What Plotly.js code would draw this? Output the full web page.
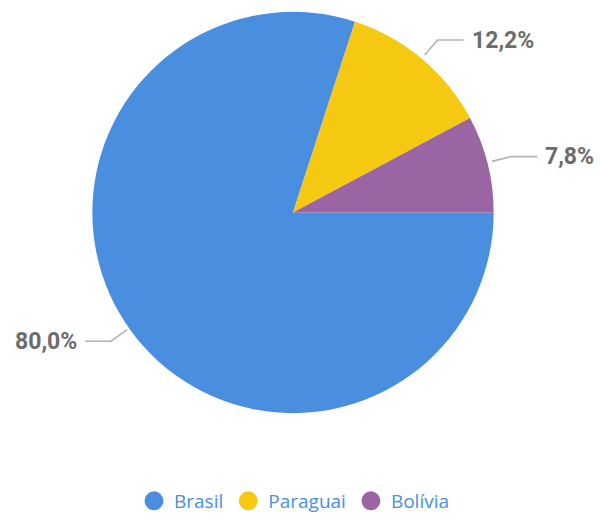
<!DOCTYPE html>
<html>
<head>
<meta charset="utf-8">
<script src="https://cdn.plot.ly/plotly-3.0.1.min.js"></script>
<style>html,body{margin:0;padding:0;background:#fff}#chart{width:600px;height:520px}</style>
</head>
<body>
<div id="chart"></div>
<script>
const categories = ["Brasil", "Paraguai", "Bolívia"];
const values = [80.0, 12.2, 7.8];
const colors = ["#4a8fdf", "#f5c911", "#9b64a3"];

const W = 600, H = 520;
const cx = 293, cy = 213, R = 201;

const total = values.reduce((a, b) => a + b, 0);
const shapes = [];
const annotations = [];
let cum = 0;
values.forEach((v, i) => {
  const midFrac = (cum + v / 2) / total;
  cum += v;
  const ang = -2 * Math.PI * midFrac; // clockwise from 3 o'clock
  const c = Math.cos(ang), s = Math.sin(ang);
  const r1 = R + 4, r2 = R + 24;
  const x1 = cx + r1 * c, y1 = cy - r1 * s;
  const x2 = cx + r2 * c, y2 = cy - r2 * s;
  const dir = c >= 0 ? 1 : -1;
  const x3 = x2 + dir * 26;
  const px = x => x / W, py = y => 1 - y / H;
  shapes.push({
    type: "path", xref: "paper", yref: "paper",
    path: `M${px(x1)},${py(y1)} L${px(x2)},${py(y2)} L${px(x3)},${py(y2)}`,
    line: {color: "#b3b3b3", width: 1.6}
  });
  annotations.push({
    xref: "paper", yref: "paper", showarrow: false,
    x: px(x3 + dir * 6), y: py(y2),
    xanchor: dir > 0 ? "left" : "right", yanchor: "middle",
    text: "<b>" + v.toFixed(1).replace(".", ",") + "%</b>",
    font: {family: "Roboto, sans-serif", size: 23, color: "#6c6c6c"}
  });
});

const Rd = R + 2, cyd = cy + 2;
const pie = {
  type: "pie",
  labels: categories,
  values: values,
  sort: false,
  direction: "clockwise",
  rotation: 90,
  marker: {colors: colors, line: {width: 0}},
  textinfo: "none",
  hoverinfo: "label+percent",
  showlegend: false,
  domain: {x: [(cx - Rd) / W, (cx + Rd) / W], y: [1 - (cyd + Rd) / H, 1 - (cyd - Rd) / H]}
};

const legendTraces = categories.map((c, i) => ({
  type: "scatter", mode: "markers", x: [null], y: [null], name: c,
  marker: {symbol: "circle", size: 16, color: colors[i], line: {color: colors[i], width: 3}},
  xaxis: "x", yaxis: "y", hoverinfo: "skip"
}));

const layout = {
  width: W, height: H,
  margin: {l: 0, r: 0, t: 0, b: 0},
  paper_bgcolor: "#ffffff", plot_bgcolor: "rgba(0,0,0,0)",
  xaxis: {visible: false, domain: [0, 1]},
  yaxis: {visible: false, domain: [0, 1]},
  showlegend: true,
  legend: {
    orientation: "h", x: 134 / W, xanchor: "left", y: 1 - 507 / H, yanchor: "middle",
    font: {family: "'Open Sans', sans-serif", size: 19, color: "#4a8fdf"},
    itemwidth: 30, traceorder: "normal"
  },
  shapes: shapes,
  annotations: annotations
};

Plotly.newPlot("chart", [pie].concat(legendTraces), layout, {displayModeBar: false, staticPlot: true});
</script>
</body>
</html>
